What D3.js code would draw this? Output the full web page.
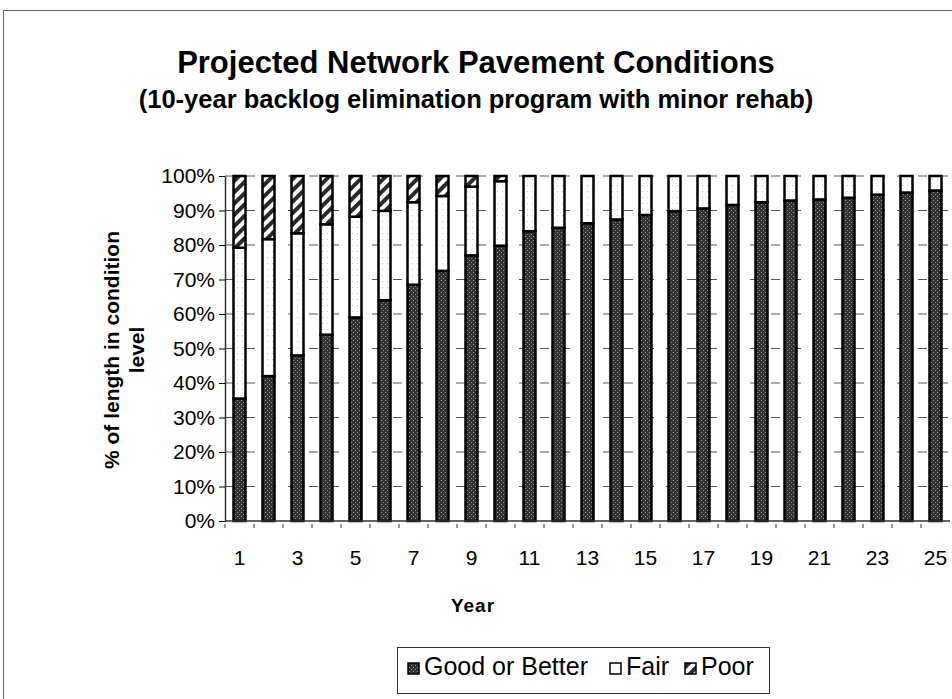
<!DOCTYPE html>
<html>
<head>
<meta charset="utf-8">
<script src="https://cdn.jsdelivr.net/npm/d3@7"></script>
<style>
  body { margin: 0; background: #fff; }
  text { font-family: "Liberation Sans", Arial, sans-serif; }
</style>
</head>
<body>
<div id="chart"></div>
<script>
// Data (percent of network length)
const years = d3.range(1, 26);
const good = [35.5, 42, 48, 54, 59, 64, 68.5, 72.5, 77, 79.8, 84, 85, 86.3, 87.4, 88.7, 89.8, 90.6, 91.6, 92.4, 92.9, 93.2, 93.7, 94.6, 95.2, 95.8];
const fair = [43.7, 39.7, 35.4, 32, 29.2, 25.9, 23.9, 21.7, 19.9, 18.7, 16, 15, 13.7, 12.6, 11.3, 10.2, 9.4, 8.4, 7.6, 7.1, 6.8, 6.3, 5.4, 4.8, 4.2];
const poor = years.map((y, i) => Math.max(0, 100 - good[i] - fair[i]));
const seriesNames = ["Good or Better", "Fair", "Poor"];
const yTicks = d3.range(0, 101, 10);

const width = 952, height = 699;
const margin = { top: 176, left: 225, bottom: 178 };
const plotW = 725; // chart runs off the right edge like the scan
const plotH = height - margin.top - margin.bottom;

const svg = d3
  .select("#chart")
  .append("svg")
  .attr("width", width)
  .attr("height", height);

// Fill patterns to mimic the printed textures
const defs = svg.append("defs");

const goodPat = defs
  .append("pattern")
  .attr("id", "goodPat")
  .attr("patternUnits", "userSpaceOnUse")
  .attr("width", 4)
  .attr("height", 4);
goodPat.append("rect").attr("width", 4).attr("height", 4).attr("fill", "#333");
goodPat.append("rect").attr("x", 0).attr("y", 0).attr("width", 1).attr("height", 1).attr("fill", "#999");
goodPat.append("rect").attr("x", 2).attr("y", 2).attr("width", 1).attr("height", 1).attr("fill", "#888");

const fairPat = defs
  .append("pattern")
  .attr("id", "fairPat")
  .attr("patternUnits", "userSpaceOnUse")
  .attr("width", 5)
  .attr("height", 6);
fairPat.append("rect").attr("width", 5).attr("height", 6).attr("fill", "#fff");
fairPat.append("rect").attr("x", 2).attr("y", 3).attr("width", 1).attr("height", 1).attr("fill", "#c8c8c8");

const poorPat = defs
  .append("pattern")
  .attr("id", "poorPat")
  .attr("patternUnits", "userSpaceOnUse")
  .attr("width", 8)
  .attr("height", 8)
  .attr("patternTransform", "rotate(-45)");
poorPat.append("rect").attr("width", 8).attr("height", 8).attr("fill", "#fff");
poorPat.append("rect").attr("width", 8).attr("height", 4).attr("fill", "#2a2a2a");

const fills = ["url(#goodPat)", "url(#fairPat)", "url(#poorPat)"];

// Outer chart border
svg
  .append("rect")
  .attr("x", 3.5)
  .attr("y", 10.5)
  .attr("width", 960)
  .attr("height", 700)
  .attr("fill", "none")
  .attr("stroke", "#666")
  .attr("stroke-width", 1);

// Titles
svg
  .append("text")
  .attr("x", 476)
  .attr("y", 73)
  .attr("text-anchor", "middle")
  .style("font-size", "31px")
  .style("font-weight", "bold")
  .text("Projected Network Pavement Conditions");

svg
  .append("text")
  .attr("x", 476)
  .attr("y", 108)
  .attr("text-anchor", "middle")
  .style("font-size", "25.5px")
  .style("font-weight", "bold")
  .text("(10-year backlog elimination program with minor rehab)");

const g = svg.append("g").attr("transform", `translate(${margin.left},${margin.top})`);

// Scales
const x = d3.scaleBand().domain(years).range([0, plotW]).paddingInner(0).paddingOuter(0);
const y = d3.scaleLinear().domain([0, 100]).range([plotH, 0]);

// Dashed gridlines
g.selectAll(".grid")
  .data(yTicks.filter((d) => d > 0))
  .enter()
  .append("line")
  .attr("class", "grid")
  .attr("x1", 0)
  .attr("x2", plotW)
  .attr("y1", (d) => y(d))
  .attr("y2", (d) => y(d))
  .attr("stroke", "#555")
  .attr("stroke-width", 1)
  .attr("stroke-dasharray", "9,12");

// Stacked data
const rows = years.map((yr, i) => ({ year: yr, good: good[i], fair: fair[i], poor: poor[i] }));
const stack = d3.stack().keys(["good", "fair", "poor"]);
const layers = stack(rows);

const barW = 12;
g.selectAll(".layer")
  .data(layers)
  .enter()
  .append("g")
  .attr("class", "layer")
  .attr("fill", (d, i) => fills[i])
  .selectAll("rect")
  .data((d) => d.filter((p) => p[1] - p[0] > 0.05))
  .enter()
  .append("rect")
  .attr("x", (d) => x(d.data.year) + x.bandwidth() / 2 - barW / 2)
  .attr("y", (d) => y(d[1]))
  .attr("width", barW)
  .attr("height", (d) => y(d[0]) - y(d[1]))
  .attr("stroke", "#000")
  .attr("stroke-width", 2.5);

// Y axis
const yAxis = g
  .append("g")
  .call(d3.axisLeft(y).tickValues(yTicks).tickFormat((d) => d + "%").tickSize(6).tickSizeOuter(0));
yAxis.select(".domain").attr("stroke", "#333").attr("stroke-width", 1.5);
yAxis.selectAll("text").style("font-size", "21px").attr("x", -10).attr("fill", "#000");

// X axis: ticks between categories, labels on odd years
const xAxis = g.append("g").attr("transform", `translate(0,${plotH})`);
xAxis
  .append("line")
  .attr("x1", 0)
  .attr("x2", plotW)
  .attr("stroke", "#333")
  .attr("stroke-width", 1.5);
xAxis
  .selectAll(".xtick")
  .data(years)
  .enter()
  .append("line")
  .attr("x1", (d) => x(d))
  .attr("x2", (d) => x(d))
  .attr("y1", 3)
  .attr("y2", 7)
  .attr("stroke", "#333");
xAxis
  .selectAll(".xlabel")
  .data(years.filter((d) => d % 2 === 1))
  .enter()
  .append("text")
  .attr("x", (d) => x(d) + x.bandwidth() / 2)
  .attr("y", 44)
  .attr("text-anchor", "middle")
  .style("font-size", "21px")
  .text((d) => d);

// Axis titles
svg
  .append("text")
  .attr("x", 473)
  .attr("y", 612)
  .attr("text-anchor", "middle")
  .style("font-size", "19px")
  .style("font-weight", "bold")
  .style("letter-spacing", "1px")
  .text("Year");

const yTitle = svg
  .append("text")
  .attr("transform", "translate(119,350) rotate(-90)")
  .attr("text-anchor", "middle")
  .style("font-size", "21px")
  .style("font-weight", "bold");
yTitle.append("tspan").attr("x", 0).attr("dy", 0).text("% of length in condition");
yTitle.append("tspan").attr("x", 0).attr("dy", 25).text("level");

// Legend
const legend = svg.append("g").attr("transform", "translate(397,647)");
legend
  .append("rect")
  .attr("x", 0.5)
  .attr("y", 0.5)
  .attr("width", 372)
  .attr("height", 46)
  .attr("fill", "#fff")
  .attr("stroke", "#333");

const legendX = [11, 213, 288];
seriesNames.forEach((name, i) => {
  legend
    .append("rect")
    .attr("x", legendX[i])
    .attr("y", 16)
    .attr("width", 11)
    .attr("height", 11)
    .attr("fill", fills[i])
    .attr("stroke", "#000")
    .attr("stroke-width", 1.5);
  legend
    .append("text")
    .attr("x", legendX[i] + 16)
    .attr("y", 28)
    .style("font-size", "25px")
    .text(name);
});
</script>
</body>
</html>
